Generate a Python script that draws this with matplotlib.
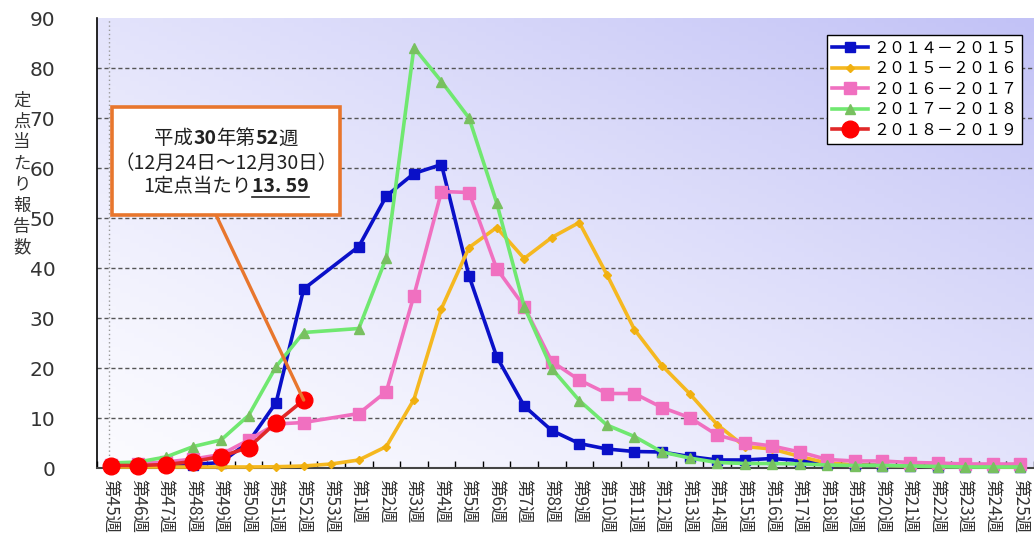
import numpy as np
import matplotlib
matplotlib.use("Agg")
import matplotlib.pyplot as plt
from matplotlib.patches import Rectangle, ConnectionPatch
from matplotlib.lines import Line2D

plt.rcParams['font.family'] = ['Noto Sans CJK JP', 'DejaVu Sans']

nan = np.nan
weeks = ["第45週", "第46週", "第47週", "第48週", "第49週", "第50週", "第51週", "第52週", "第53週"] + \
        ["第%d週" % i for i in range(1, 26)]

s2014 = [0.4, 0.4, 0.5, 0.7, 1.1, 5.2, 13.1, 35.8, nan, 44.3, 54.4, 58.9, 60.7, 38.4, 22.3, 12.4, 7.5, 4.9,
         3.8, 3.3, 3.2, 2.3, 1.6, 1.6, 1.9, 1.5, 0.8, 0.6, 0.5, 0.4, 0.3, 0.3, 0.2, 0.2]
s2015 = [0.2, 0.2, 0.2, 0.2, 0.2, 0.2, 0.25, 0.4, 0.8, 1.6, 4.3, 13.7, 31.9, 44.1, 48.1, 41.9, 46.1, 49.1,
         38.7, 27.7, 20.5, 14.9, 8.7, 4.3, 3.8, 2.3, 1.0, 0.6, 0.5, 0.4, 0.3, 0.3, 0.2, 0.2]
s2016 = [0.7, 0.9, 1.2, 1.8, 2.7, 5.6, 8.8, 9.1, nan, 10.9, 15.3, 34.5, 55.3, 55.1, 39.9, 32.3, 21.3, 17.6,
         14.9, 14.9, 12.1, 10.1, 6.6, 5.1, 4.4, 3.2, 1.7, 1.4, 1.4, 1.1, 1.0, 0.8, 0.8, 0.8]
s2017 = [1.0, 1.2, 2.2, 4.3, 5.6, 10.5, 20.3, 27.1, nan, 27.9, 42.1, 84.1, 77.3, 70.0, 53.1, 32.3, 19.9, 13.5,
         8.6, 6.3, 3.2, 2.0, 1.1, 0.9, 0.9, 0.8, 0.6, 0.5, 0.5, 0.4, 0.3, 0.2, 0.2, 0.2]
s2018 = [0.5, 0.5, 0.7, 1.3, 2.3, 4.1, 9.1, 13.59] + [nan] * 26

labels = ["２０１４－２０１５", "２０１５－２０１６", "２０１６－２０１７", "２０１７－２０１８", "２０１８－２０１９"]
yticks = [0, 10, 20, 30, 40, 50, 60, 70, 80, 90]

W, H = 1034, 533
fig = plt.figure(figsize=(W / 100, H / 100), dpi=100)
axl, axr, axb, axt = 97, 1034, 468, 18
ax = fig.add_axes([axl / W, (H - axb) / H, (axr - axl) / W, (axb - axt) / H])

# gradient background
nx, ny = 200, 100
gx = np.linspace(0, 1, nx)[None, :]
gy = np.linspace(0, 1, ny)[:, None]
t = np.clip(0.5 * gx + 0.5 * gy, 0, 1) ** 1.25
c0 = np.array([251, 251, 255]) / 255.0
c1 = np.array([194, 194, 246]) / 255.0
img = c0[None, None, :] * (1 - t[..., None]) + c1[None, None, :] * t[..., None]
ax.imshow(img, extent=[0, 1, 0, 1], transform=ax.transAxes, origin='lower', aspect='auto', zorder=0)

x = np.arange(len(weeks))
styles = [
    dict(color='#0A10C8', marker='s', ms=7, mfc='#0A10C8', mec='#0A10C8'),
    dict(color='#F5B820', marker='D', ms=4.5, mfc='#F0B010', mec='#F0B010'),
    dict(color='#F070C0', marker='s', ms=8, mfc='#F070C0', mec='#F070C0'),
    dict(color='#70E870', marker='^', ms=7, mfc='#78C060', mec='#78C060'),
    dict(color='#E02828', marker='o', ms=12, mfc='#FF0000', mec='#FF0000'),
]
series = [s2014, s2015, s2016, s2017, s2018]
handles = []
for i, (s, st, lab) in enumerate(zip(series, styles, labels)):
    arr = np.array(s, dtype=float)
    m = ~np.isnan(arr)
    h, = ax.plot(x[m], arr[m], lw=2.6, label=lab, zorder=3 + i, clip_on=False, **st)
    handles.append(h)

ax.set_xlim(-0.5, 33.36)
ax.set_ylim(0, 90)

for v in yticks[1:-1]:
    ax.axhline(v, color='#555555', lw=1.0, ls=(0, (3, 2)), zorder=1)
ax.axvline(-0.07, color='#999999', lw=1.0, ls=(0, (1, 2)), zorder=1)

ax.set_yticks(yticks)
ax.set_yticklabels([str(v) for v in yticks], fontsize=14.5, color='#333333', family=['DejaVu Sans'])
ax.tick_params(axis='y', length=0, pad=30)
ax.set_xticks(x)
ax.set_xticklabels(weeks, rotation=-90, fontsize=12.5, color='#333333')
ax.tick_params(axis='x', which='major', length=0, pad=8)
ax.set_xticks(np.arange(-0.5, 34, 1), minor=True)
ax.tick_params(axis='x', which='minor', direction='in', length=5, width=1, color='black')

for sp in ['top', 'right']:
    ax.spines[sp].set_visible(False)
ax.spines['left'].set_color('black')
ax.spines['left'].set_linewidth(1.2)
ax.spines['bottom'].set_color('#444444')
ax.spines['bottom'].set_linewidth(1.5)

# y label stacked
fig.text(22 / W, 1 - 174 / H, "\n".join("定点当たり報告数"), fontsize=12.5, color='#333333',
         ha='center', va='center', linespacing=1.22)

# legend
leg = ax.legend(handles=handles, loc='upper right', bbox_to_anchor=(1022 / W, 1 - 35 / H),
                bbox_transform=fig.transFigure, frameon=True, fancybox=False, fontsize=11.5,
                handlelength=2.3, handletextpad=0.3, borderaxespad=0, borderpad=0.3,
                labelspacing=0.22, framealpha=1)
leg.get_frame().set_edgecolor('black')
leg.get_frame().set_linewidth(1.0)
leg.set_zorder(20)


def fx(px):
    return (px - axl) / (axr - axl)


def fy(py):
    return (axb - py) / (axb - axt)


# annotation box
box = Rectangle((fx(112), fy(215)), fx(340) - fx(112), fy(107) - fy(215), transform=ax.transAxes,
                facecolor='white', edgecolor='#E8762D', lw=2.6, zorder=12, clip_on=False)
ax.add_patch(box)
con = ConnectionPatch(xyA=(fx(216), fy(215)), coordsA=ax.transAxes, xyB=(7, 13.59), coordsB=ax.transData,
                      color='#E8762D', lw=2.4, zorder=7)
ax.add_artist(con)

fig.canvas.draw()
renderer = fig.canvas.get_renderer()


def place_pieces(pieces, cx, cy, size=14):
    texts = []
    widths = []
    for s, bold, ul in pieces:
        tt = fig.text(0, 0, s, fontsize=size, fontweight='bold' if bold else 'normal', color='#222222',
                      ha='left', va='center', zorder=30)
        bb = tt.get_window_extent(renderer)
        texts.append((tt, ul))
        widths.append(bb.width)
    total = sum(widths)
    xcur = cx - total / 2
    for (tt, ul), w in zip(texts, widths):
        tt.set_position((xcur / W, 1 - cy / H))
        if ul:
            fig.add_artist(Line2D([xcur / W, (xcur + w) / W], [1 - (cy + 11) / H, 1 - (cy + 11) / H],
                                  color='#222222', lw=1.2, zorder=30))
        xcur += w


place_pieces([("平成", False, False), ("30", True, False), ("年第", False, False), ("52", True, False),
              ("週", False, False)], 226, 139)
place_pieces([("（12月24日～12月30日）", False, False)], 226, 163)
place_pieces([("1定点当たり", False, False), ("13. 59", True, True)], 226, 186)

fig.savefig("out.png", dpi=100)
